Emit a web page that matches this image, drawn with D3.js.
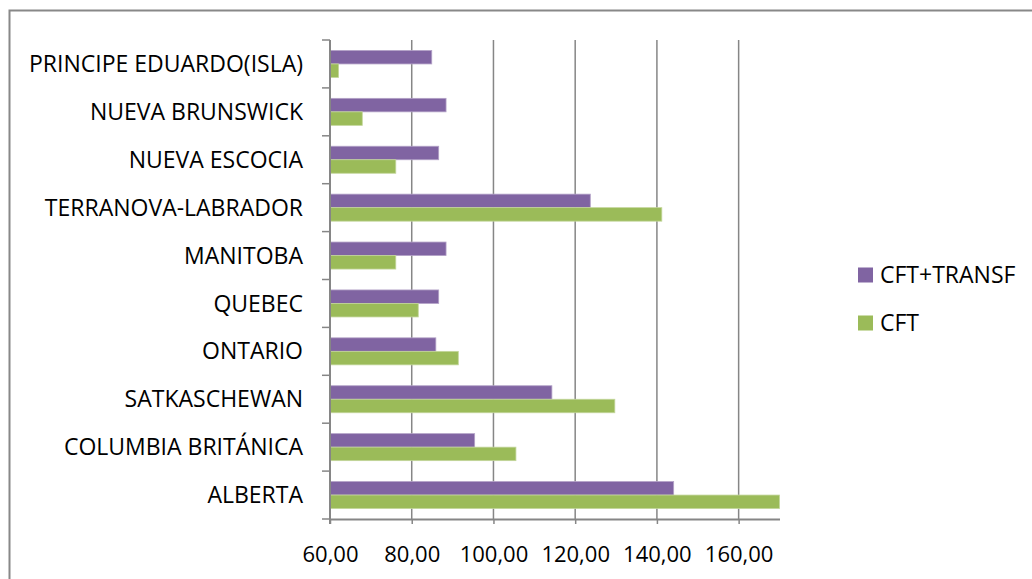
<!DOCTYPE html>
<html>
<head>
<meta charset="utf-8">
<script src="https://cdn.jsdelivr.net/npm/d3@7"></script>
<style>
  html, body { margin: 0; padding: 0; background: #fff; }
  svg { display: block; }
  text { font-family: "Open Sans", "Noto Sans", sans-serif; fill: #000; }
</style>
</head>
<body>
<svg id="chart" width="1032" height="579"></svg>
<script>
// ---- data ----
const categories = [
  "PRINCIPE EDUARDO(ISLA)",
  "NUEVA BRUNSWICK",
  "NUEVA ESCOCIA",
  "TERRANOVA-LABRADOR",
  "MANITOBA",
  "QUEBEC",
  "ONTARIO",
  "SATKASCHEWAN",
  "COLUMBIA BRITÁNICA",
  "ALBERTA"
];
const seriesNames = ["CFT+TRANSF", "CFT"];
const cftTransf = [84.9, 88.4, 86.6, 123.7, 88.4, 86.6, 85.9, 114.3, 95.4, 144.1];
const cft       = [62.1, 67.9, 76.1, 141.2, 76.1, 81.6, 91.4, 129.7, 105.5, 171.0];
const xTicks = [60, 80, 100, 120, 140, 160];
const xDomain = [60, 170];

// ---- layout ----
const svg = d3.select("#chart");
const plot = { left: 330, right: 779.5, top: 40, bottom: 519 };
const axisColor = "#868686";
const colors = { "CFT+TRANSF": "#8064A2", "CFT": "#9BBB59" };
const strokes = { "CFT+TRANSF": "#B3A2C7", "CFT": "#C3D69B" };

// outer chart border
svg.append("rect")
  .attr("x", 9.5).attr("y", 10.5)
  .attr("width", 1100).attr("height", 700)
  .attr("fill", "none").attr("stroke", "#888").attr("stroke-width", 2);

const x = d3.scaleLinear().domain(xDomain).range([plot.left, plot.right]).clamp(true);
const y = d3.scaleBand().domain(categories).range([plot.top, plot.bottom])
  .paddingInner(0.436).paddingOuter(0.218);
const ySub = d3.scaleBand().domain(seriesNames).range([0, y.bandwidth()]);

const locale = d3.formatLocale({ decimal: ",", thousands: ".", grouping: [3], currency: ["", ""] });
const fmt = locale.format(".2f");

// gridlines
svg.append("g").selectAll("line").data(xTicks.filter(t => t > xDomain[0])).join("line")
  .attr("x1", d => x(d)).attr("x2", d => x(d))
  .attr("y1", plot.top).attr("y2", plot.bottom)
  .attr("stroke", axisColor).attr("stroke-width", 1.5);

// bars
const rows = categories.map((c, i) => ({ cat: c, values: [
  { s: "CFT+TRANSF", v: cftTransf[i] },
  { s: "CFT", v: cft[i] }
]}));
const g = svg.append("g");
g.selectAll("g.row").data(rows).join("g").attr("class", "row")
  .attr("transform", d => `translate(0,${y(d.cat)})`)
  .selectAll("rect").data(d => d.values).join("rect")
  .attr("x", x(xDomain[0]))
  .attr("y", d => ySub(d.s))
  .attr("width", d => x(d.v) - x(xDomain[0]))
  .attr("height", ySub.bandwidth())
  .attr("fill", d => colors[d.s])
  .attr("stroke", d => strokes[d.s]).attr("stroke-width", 0.8);

// bottom axis
const xAxis = d3.axisBottom(x).tickValues(xTicks).tickFormat(fmt).tickSizeInner(5).tickSizeOuter(0).tickPadding(22);
const gx = svg.append("g").attr("transform", `translate(0,${plot.bottom})`).call(xAxis);
gx.select(".domain").attr("stroke", axisColor).attr("stroke-width", 2);
gx.selectAll(".tick line").attr("stroke", axisColor).attr("stroke-width", 1.5);
gx.selectAll(".tick text").style("font-size", "22px").style("font-family", "'Open Sans', sans-serif").attr("fill", "#000");

// left axis (category boundaries as ticks)
const boundaries = d3.range(categories.length + 1).map(i => plot.top + i * y.step());
svg.append("g").selectAll("line").data(boundaries).join("line")
  .attr("x1", plot.left - 8).attr("x2", plot.left)
  .attr("y1", d => d).attr("y2", d => d)
  .attr("stroke", axisColor).attr("stroke-width", 1.5);
svg.append("line")
  .attr("x1", plot.left).attr("x2", plot.left)
  .attr("y1", plot.top).attr("y2", plot.bottom + 5)
  .attr("stroke", axisColor).attr("stroke-width", 2);

// category labels
svg.append("g").selectAll("text").data(categories).join("text")
  .attr("x", 303)
  .attr("y", d => y(d) + y.bandwidth() / 2)
  .attr("dy", "0.35em")
  .attr("text-anchor", "end")
  .style("font-size", "23px")
  .text(d => d);

// legend
const legend = svg.append("g");
seriesNames.forEach((s, i) => {
  const ly = 275 + i * 48;
  legend.append("rect").attr("x", 858).attr("y", ly - 7.5).attr("width", 15).attr("height", 15).attr("fill", colors[s]);
  legend.append("text").attr("x", 880).attr("y", ly).attr("dy", "0.35em").style("font-size", "23px").text(s);
});
</script>
</body>
</html>
